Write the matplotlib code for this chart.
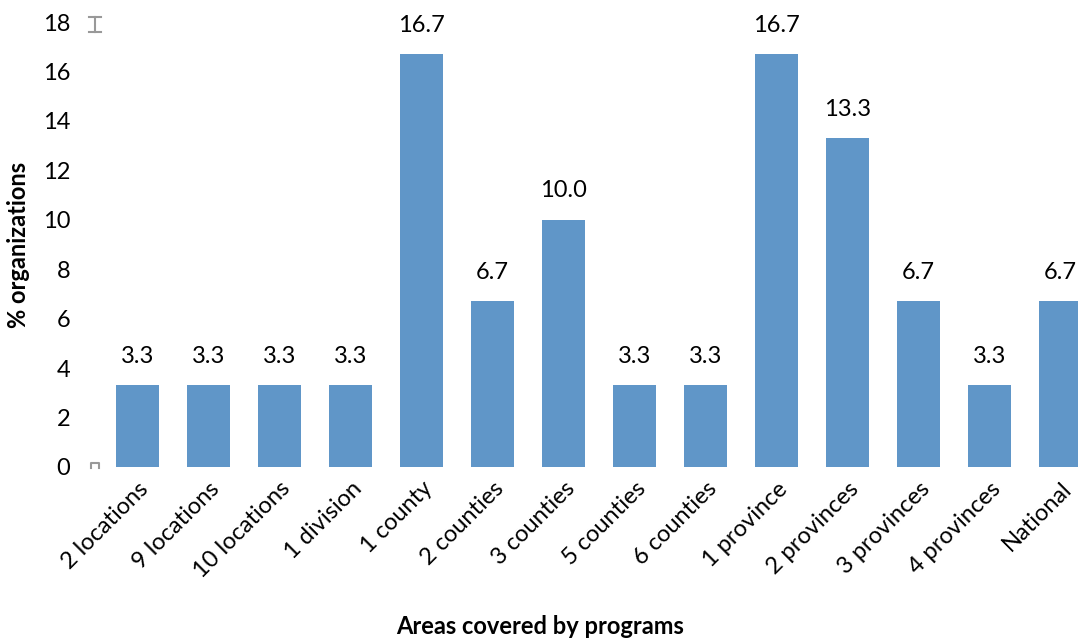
import matplotlib.pyplot as plt

areas = ["2 locations", "9 locations", "10 locations", "1 division", "1 county",
         "2 counties", "3 counties", "5 counties", "6 counties", "1 province",
         "2 provinces", "3 provinces", "4 provinces", "National"]
pct = [3.3, 3.3, 3.3, 3.3, 16.7, 6.7, 10.0, 3.3, 3.3, 16.7, 13.3, 6.7, 3.3, 6.7]

plt.rcParams["font.family"] = ["Lato", "DejaVu Sans"]

fig = plt.figure(figsize=(10.81, 6.42), dpi=100)
ax = fig.add_axes([0.088, 0.2726, 0.909, 0.693])

x = range(len(areas))
bars = ax.bar(x, pct, width=0.6, color="#6096C8", zorder=2)
for b, v in zip(bars, pct):
    ax.text(b.get_x() + b.get_width() / 2, v + 0.75, f"{v:.1f}",
            ha="center", va="bottom", fontsize=17)

# leftover error-bar caps at the axis origin
ax.plot([-0.68, -0.52], [17.6, 17.6], color="#999999", lw=1.5, clip_on=False)
ax.plot([-0.68, -0.52], [18.2, 18.2], color="#999999", lw=1.5, clip_on=False)
ax.plot([-0.6, -0.6], [17.6, 18.2], color="#999999", lw=1.5, clip_on=False)
ax.plot([-0.66, -0.66, -0.54, -0.54], [-0.05, 0.15, 0.15, -0.05],
        color="#999999", lw=1.5, clip_on=False)

ax.set_xlim(-0.6, 13.24)
ax.set_ylim(0, 18)
ax.set_yticks(range(0, 19, 2))
ax.set_xticks(list(x))
ax.set_xticklabels(areas, rotation=45, ha="right", rotation_mode="anchor", fontsize=17)
ax.tick_params(axis="y", labelsize=17, length=0, pad=18)
ax.tick_params(axis="x", length=0, pad=8)
for s in ax.spines.values():
    s.set_visible(False)

ax.set_ylabel("% organizations", fontsize=17, fontweight="bold")
ax.yaxis.set_label_coords(-0.066, 0.5)
fig.text(0.5, 0.012, "Areas covered by programs", ha="center", fontsize=17, fontweight="bold")

fig.savefig("out.png", dpi=100)
